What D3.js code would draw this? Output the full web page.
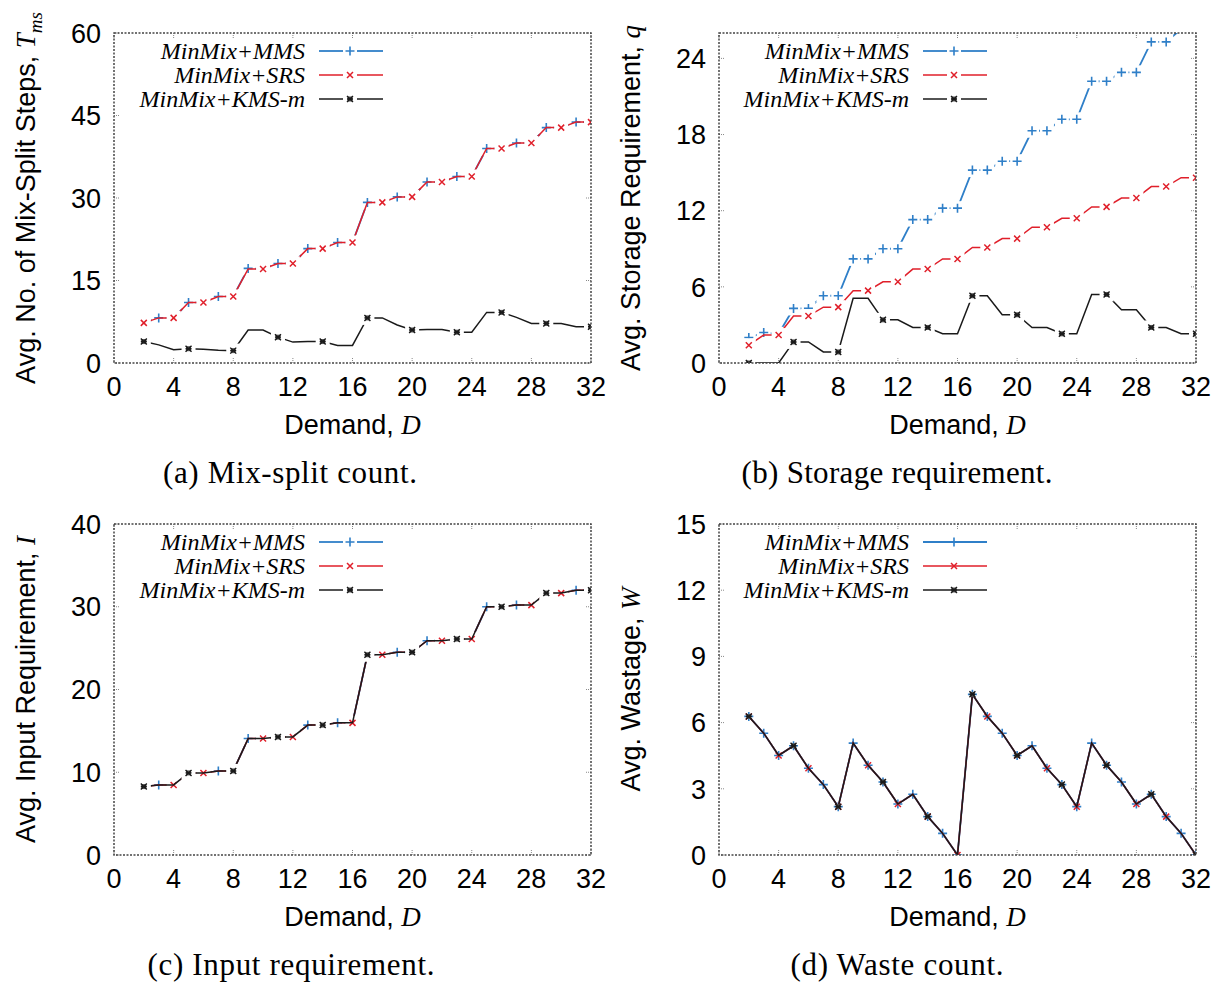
<!DOCTYPE html>
<html>
<head>
<meta charset="utf-8">
<script src="https://cdn.jsdelivr.net/npm/d3@7"></script>
<style>
  body { margin: 0; background: #fff; }
  svg { display: block; }
</style>
</head>
<body>
<div id="chart"></div>
<script>
// demand values on the x axis
var demand = [2,3,4,5,6,7,8,9,10,11,12,13,14,15,16,17,18,19,20,21,22,23,24,25,26,27,28,29,30,31,32];
var xTicks = [0,4,8,12,16,20,24,28,32];
var seriesNames = ["MinMix+MMS", "MinMix+SRS", "MinMix+KMS-m"];

// (a) mix-split steps
var tmsMMS = [7.3,8.2,8.2,11.0,11.0,12.1,12.1,17.2,17.1,18.1,18.1,20.8,20.8,21.9,21.9,29.2,29.2,30.2,30.2,32.9,32.9,33.9,33.9,39.0,39.0,40.0,40.0,42.8,42.8,43.8,43.8];
var tmsSRS = [7.3,8.2,8.2,11.0,11.0,12.1,12.1,17.1,17.1,18.1,18.1,20.8,20.8,21.9,21.9,29.2,29.2,30.2,30.2,32.9,32.9,33.9,33.9,39.0,39.0,40.0,40.0,42.8,42.8,43.8,43.8];
var tmsKMS = [3.9,3.3,2.4,2.6,2.5,2.3,2.25,6.0,6.0,4.7,3.8,3.9,3.9,3.2,3.2,8.2,8.2,6.9,6.0,6.1,6.1,5.6,5.6,9.2,9.2,8.3,7.2,7.2,7.2,6.6,6.6];
var tmsTicks = [0,15,30,45,60];

// (b) storage requirement
var qMMS = [2.0,2.4,2.3,4.3,4.3,5.3,5.3,8.2,8.2,9.0,9.0,11.3,11.3,12.2,12.2,15.2,15.2,15.9,15.9,18.3,18.3,19.2,19.2,22.2,22.2,22.9,22.9,25.3,25.3,26.3,26.3];
var qSRS = [1.4,2.2,2.2,3.7,3.7,4.4,4.4,5.7,5.7,6.4,6.4,7.4,7.4,8.2,8.2,9.1,9.1,9.8,9.8,10.7,10.7,11.4,11.4,12.3,12.3,13.0,13.0,13.9,13.9,14.6,14.6];
var qKMS = [0,0,0,1.66,1.66,0.87,0.87,5.1,5.1,3.4,3.4,2.8,2.8,2.3,2.3,5.3,5.3,3.8,3.8,2.8,2.8,2.3,2.3,5.4,5.4,4.2,4.2,2.8,2.8,2.3,2.3];
var qTicks = [0,6,12,18,24];

// (c) input requirement
var inMMS = [8.27,8.47,8.47,9.92,9.92,10.16,10.16,14.07,14.07,14.27,14.27,15.7,15.7,15.97,15.97,24.2,24.2,24.5,24.5,25.9,25.9,26.1,26.1,30.0,30.0,30.2,30.2,31.65,31.65,32.0,32.0];
var inSRS = [8.27,8.47,8.47,9.92,9.92,10.16,10.16,14.07,14.07,14.27,14.27,15.7,15.7,15.97,15.97,24.2,24.2,24.5,24.5,25.9,25.9,26.1,26.1,30.0,30.0,30.2,30.2,31.65,31.65,32.0,32.0];
var inKMS = [8.27,8.47,8.47,9.92,9.92,10.16,10.16,14.07,14.07,14.27,14.27,15.7,15.7,15.97,15.97,24.2,24.2,24.5,24.5,25.9,25.9,26.1,26.1,30.0,30.0,30.2,30.2,31.65,31.65,32.0,32.0];
var inTicks = [0,10,20,30,40];

// (d) wastage
var wMMS = [6.28,5.52,4.51,4.95,3.93,3.19,2.19,5.07,4.07,3.31,2.31,2.75,1.74,0.98,0,7.28,6.28,5.52,4.51,4.95,3.93,3.19,2.19,5.07,4.07,3.31,2.31,2.75,1.74,0.98,0];
var wSRS = [6.28,5.52,4.51,4.95,3.93,3.19,2.19,5.07,4.07,3.31,2.31,2.75,1.74,0.98,0,7.28,6.28,5.52,4.51,4.95,3.93,3.19,2.19,5.07,4.07,3.31,2.31,2.75,1.74,0.98,0];
var wKMS = [6.28,5.52,4.51,4.95,3.93,3.19,2.19,5.07,4.07,3.31,2.31,2.75,1.74,0.98,0,7.28,6.28,5.52,4.51,4.95,3.93,3.19,2.19,5.07,4.07,3.31,2.31,2.75,1.74,0.98,0];
var wTicks = [0,3,6,9,12,15];

var width = 1232, height = 983;
var sans = "'Liberation Sans', Arial, sans-serif";
var serif = "'Liberation Serif', 'Times New Roman', serif";

var styles = [
  { color: "#2f7fc8", width: 1.8, mark: "plus",  every: 1 },
  { color: "#e01f2a", width: 1.5, mark: "cross", every: 2 },
  { color: "#1a1a1a", width: 1.5, mark: "star",  every: 3 }
];

var panels = [
  { left: 114, right: 591, top: 33, bottom: 363, ymax: 60, yticks: tmsTicks, series: [tmsMMS, tmsSRS, tmsKMS],
    ylab: "Avg. No. of Mix-Split Steps, ", ysym: "T", ysub: "ms", caption: "(a) Mix-split count.", capx: 290, capw: 254, gaps: true },
  { left: 719, right: 1196, top: 33, bottom: 363, ymax: 26, yticks: qTicks, series: [qMMS, qSRS, qKMS],
    ylab: "Avg. Storage Requirement, ", ysym: "q", ysub: "", caption: "(b) Storage requirement.", capx: 897, capw: 311, gaps: true },
  { left: 114, right: 591, top: 524, bottom: 855, ymax: 40, yticks: inTicks, series: [inMMS, inSRS, inKMS],
    ylab: "Avg. Input Requirement, ", ysym: "I", ysub: "", caption: "(c) Input requirement.", capx: 291, capw: 287, gaps: true },
  { left: 719, right: 1196, top: 524, bottom: 855, ymax: 15, yticks: wTicks, series: [wMMS, wSRS, wKMS],
    ylab: "Avg. Wastage, ", ysym: "W", ysub: "", caption: "(d) Waste count.", capx: 897, capw: 213, gaps: false }
];

var svg = d3.select("#chart").append("svg")
  .attr("width", width).attr("height", height);

function drawMark(g, type, x, y, color) {
  if (type === "plus") {
    g.append("path").attr("d", "M" + (x - 4.5) + "," + y + "H" + (x + 4.5) + "M" + x + "," + (y - 4.5) + "V" + (y + 4.5))
      .attr("stroke", color).attr("stroke-width", 1.6).attr("fill", "none");
  } else if (type === "cross") {
    g.append("path").attr("d", "M" + (x - 3) + "," + (y - 3) + "L" + (x + 3) + "," + (y + 3) + "M" + (x - 3) + "," + (y + 3) + "L" + (x + 3) + "," + (y - 3))
      .attr("stroke", color).attr("stroke-width", 1.5).attr("fill", "none");
  } else {
    g.append("rect").attr("x", x - 2.5).attr("y", y - 2.5).attr("width", 5).attr("height", 5)
      .attr("fill", "#555");
    g.append("path").attr("d", "M" + (x - 3) + "," + (y - 3) + "L" + (x + 3) + "," + (y + 3) + "M" + (x - 3) + "," + (y + 3) + "L" + (x + 3) + "," + (y - 3) + "M" + (x - 3) + "," + y + "H" + (x + 3))
      .attr("stroke", color).attr("stroke-width", 1.4).attr("fill", "none");
  }
}

var box = 7;

panels.forEach(function (p, pi) {
  var x = d3.scaleLinear().domain([0, 32]).range([p.left, p.right]);
  var y = d3.scaleLinear().domain([0, p.ymax]).range([p.bottom, p.top]);
  var g = svg.append("g");

  var clipId = "clip" + pi;
  svg.append("clipPath").attr("id", clipId).append("rect")
    .attr("x", p.left).attr("y", p.top).attr("width", p.right - p.left).attr("height", p.bottom - p.top);

  // ticks (mirrored, inward)
  var tg = g.append("g").attr("stroke", "#888").attr("stroke-width", 1).attr("stroke-dasharray", "1,1");
  xTicks.forEach(function (t) {
    tg.append("line").attr("x1", x(t)).attr("x2", x(t)).attr("y1", p.bottom).attr("y2", p.bottom - 5);
    tg.append("line").attr("x1", x(t)).attr("x2", x(t)).attr("y1", p.top).attr("y2", p.top + 5);
  });
  p.yticks.forEach(function (t) {
    tg.append("line").attr("x1", p.left).attr("x2", p.left + 5).attr("y1", y(t)).attr("y2", y(t));
    tg.append("line").attr("x1", p.right).attr("x2", p.right - 5).attr("y1", y(t)).attr("y2", y(t));
  });

  // tick labels
  g.append("g").selectAll("text").data(xTicks).join("text")
    .attr("x", d => x(d)).attr("y", p.bottom + 33)
    .attr("text-anchor", "middle").attr("font-family", sans).attr("font-size", 27)
    .text(d => d);
  g.append("g").selectAll("text").data(p.yticks).join("text")
    .attr("x", p.left - 13).attr("y", d => y(d)).attr("dy", "0.36em")
    .attr("text-anchor", "end").attr("font-family", sans).attr("font-size", 27)
    .text(d => d);

  // x label
  var xl = g.append("text").attr("x", (p.left + p.right) / 2).attr("y", p.bottom + 71)
    .attr("text-anchor", "middle").attr("font-family", sans).attr("font-size", 27);
  xl.append("tspan").text("Demand, ");
  xl.append("tspan").attr("font-family", serif).attr("font-style", "italic").text("D");

  // y label
  var ylx = p.left - 79, yly = (p.top + p.bottom) / 2;
  var yl = g.append("text").attr("transform", "translate(" + ylx + "," + yly + ") rotate(-90)")
    .attr("text-anchor", "middle").attr("font-family", sans).attr("font-size", 27);
  yl.append("tspan").text(p.ylab);
  yl.append("tspan").attr("font-family", serif).attr("font-style", "italic").text(p.ysym);
  if (p.ysub) {
    yl.append("tspan").attr("font-family", serif).attr("font-style", "italic").attr("font-size", 19)
      .attr("dy", 7).text(p.ysub);
  }

  // caption
  g.append("text").attr("x", p.capx).attr("y", p.bottom + 120)
    .attr("text-anchor", "middle").attr("font-family", serif).attr("font-size", 31)
    .attr("textLength", p.capw)
    .text(p.caption);

  // series
  var plot = g.append("g").attr("clip-path", "url(#" + clipId + ")");
  var line = d3.line().x((d, i) => x(demand[i])).y(d => y(d));
  p.series.forEach(function (vals, si) {
    var st = styles[si];
    plot.append("path").datum(vals).attr("d", line)
      .attr("fill", "none").attr("stroke", st.color).attr("stroke-width", st.width);
    var pts = [];
    vals.forEach(function (v, i) { if (i % st.every === 0 && v <= p.ymax) pts.push([x(demand[i]), y(v)]); });
    if (p.gaps) {
      pts.forEach(function (pt) {
        plot.append("rect").attr("x", pt[0] - box).attr("y", pt[1] - box)
          .attr("width", 2 * box).attr("height", 2 * box).attr("fill", "#fff");
      });
    }
    pts.forEach(function (pt) { drawMark(plot, st.mark, pt[0], pt[1], st.color); });
  });

  // border
  g.append("rect").attr("x", p.left).attr("y", p.top)
    .attr("width", p.right - p.left).attr("height", p.bottom - p.top)
    .attr("fill", "none").attr("stroke", "#444").attr("stroke-width", 1.5).attr("stroke-dasharray", "2,1.5");

  // legend
  var lg = g.append("g");
  var lx = p.left + (pi % 2 === 0 ? 191 : 190);
  seriesNames.forEach(function (name, si) {
    var st = styles[si];
    var ly = p.top + 18 + si * 24;
    lg.append("text").attr("x", lx).attr("y", ly).attr("dy", "0.33em")
      .attr("text-anchor", "end").attr("font-family", serif).attr("font-style", "italic").attr("font-size", 24)
      .text(name);
    var x0 = lx + 14, x1 = lx + 78, xm = lx + 45;
    if (p.gaps) {
      lg.append("line").attr("x1", x0).attr("x2", xm - box).attr("y1", ly).attr("y2", ly)
        .attr("stroke", st.color).attr("stroke-width", st.width);
      lg.append("line").attr("x1", xm + box).attr("x2", x1).attr("y1", ly).attr("y2", ly)
        .attr("stroke", st.color).attr("stroke-width", st.width);
    } else {
      lg.append("line").attr("x1", x0).attr("x2", x1).attr("y1", ly).attr("y2", ly)
        .attr("stroke", st.color).attr("stroke-width", st.width);
    }
    drawMark(lg, st.mark, xm, ly, st.color);
  });
});
</script>
</body>
</html>
